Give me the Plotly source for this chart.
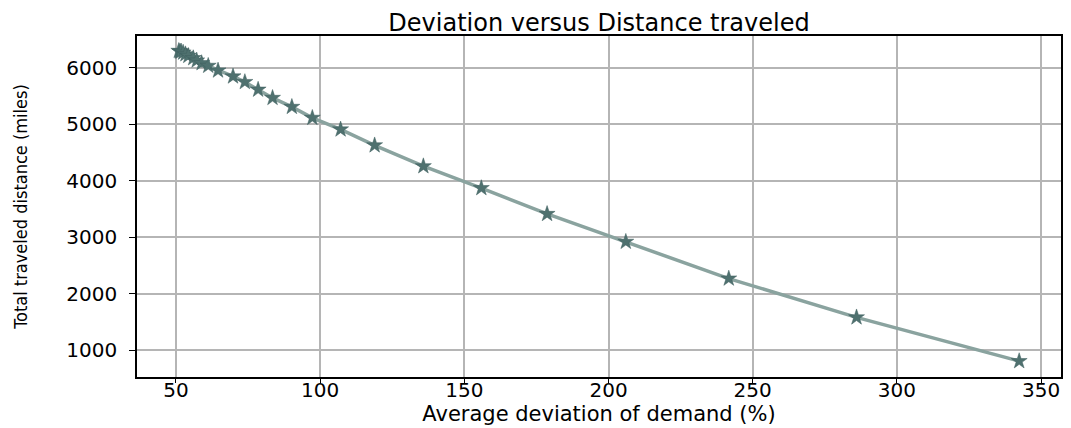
import plotly.graph_objects as go

deviation = [51.0, 51.4, 51.8, 52.5, 53.3, 54.3, 56.0, 57.2, 58.9, 61.2, 64.6, 69.8, 73.9, 78.5,
             83.5, 90.2, 97.3, 107.1, 118.9, 135.8, 155.9, 178.7, 206.0, 241.7, 286.0, 342.4]
distance = [6300, 6287, 6290, 6269, 6240, 6211, 6171, 6129, 6083, 6035, 5952, 5847, 5748, 5613,
            5467, 5308, 5114, 4908, 4627, 4257, 3870, 3412, 2919, 2268, 1581, 806]

x_ticks = [50, 100, 150, 200, 250, 300, 350]
y_ticks = [1000, 2000, 3000, 4000, 5000, 6000]

fig = go.Figure()
fig.add_trace(go.Scatter(
    x=deviation, y=distance, mode="lines+markers",
    line=dict(color="#8aa39f", width=3.5),
    marker=dict(symbol="star", size=12, color="#4f716f",
                line=dict(color="#3f5f5e", width=0.5)),
    showlegend=False,
))

axis_common = dict(
    showline=True, linecolor="black", linewidth=1.5, mirror=True,
    ticks="outside", tickwidth=1.2, tickcolor="black",
    showgrid=True, gridcolor="#b5b5b5", gridwidth=2,
    zeroline=False, automargin=True,
    tickfont=dict(family="DejaVu Sans", size=20, color="black"),
)

# the page body adds an 8px offset, so the figure is sized/positioned to compensate
fig.update_layout(
    width=1063, height=420,
    margin=dict(l=129, r=8, t=28, b=49),
    paper_bgcolor="white", plot_bgcolor="white",
    title=dict(text="Deviation versus Distance traveled", x=0.5, xref="paper", xanchor="center",
               y=0.985, yanchor="top",
               font=dict(family="DejaVu Sans", size=24, color="black")),
    xaxis=dict(range=[36.5, 356.9], tickvals=x_ticks, ticklen=4, ticklabelstandoff=-10,
               title=dict(text="Average deviation of demand (%)", standoff=4,
                          font=dict(family="DejaVu Sans", size=21, color="black")),
               **axis_common),
    yaxis=dict(range=[525, 6563], tickvals=y_ticks, ticklen=6, ticklabelstandoff=8,
               title=dict(text="Total traveled distance (miles)", standoff=34,
                          font=dict(family="DejaVu Sans Condensed, DejaVu Sans", size=18, color="black")),
               **axis_common),
)

fig.write_html("out.html")
